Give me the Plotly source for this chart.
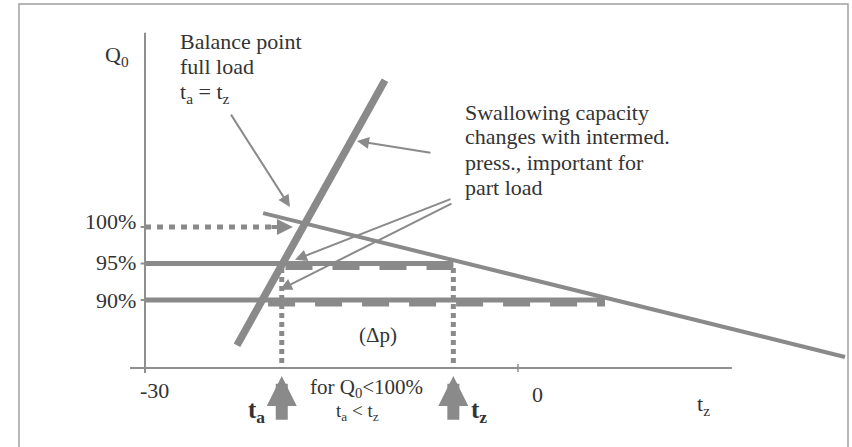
import plotly.graph_objects as go

# ---------------- data (schematic values) ----------------
Q_LEVELS = [100, 95, 90]            # Q0 in %
Q_LABELS = ["100%", "95%", "90%"]
T_TICKS = [-30, 0]                  # t_z axis ticks (deg C)
T_TICK_LABELS = ["-30", "0"]

t_a = -19.0                          # balance point temperature for 95 %
t_z = -5.2

swallow_t = [-22.6, -10.7]           # swallowing capacity characteristic
swallow_q = [83.8, 120.1]

balance_t = [-20.5, 26.3]            # evaporator / balance characteristic
balance_q = [101.9, 82.2]

level_end_t = [-18.1, t_z, 7.0]      # where the 100 / 95 / 90 % lines end
dash_start_t = [None, -18.7, -20.1]  # where the dashed part of 95 / 90 % begins

axis_q = 80.7                        # Q position of the t axis
yaxis_span_q = [80.0, 126.6]
xaxis_span_t = [-31.2, 17.2]

BALANCE_NOTE = ["Balance point", "full load", "t<sub>a</sub> = t<sub>z</sub>"]
SWALLOW_NOTE = ["Swallowing capacity", "changes with intermed.",
                "press., important for", "part load"]

# ---------------- style ----------------
GRAY = "#8a8a8a"
AXC = "#8f8f8f"
TXT = "#333333"
FONT = "Liberation Serif, Times New Roman, serif"
DASH_OFFSET = 0.55

fig = go.Figure()


def line(x, y, width, dash=None, color=GRAY):
    fig.add_trace(go.Scatter(x=x, y=y, mode="lines",
                             line=dict(color=color, width=width, dash=dash),
                             hoverinfo="skip", showlegend=False))


def arrow(tail, head, width, size, style=2):
    fig.add_annotation(x=head[0], y=head[1], ax=tail[0], ay=tail[1],
                       xref="x", yref="y", axref="x", ayref="y", text="",
                       showarrow=True, arrowhead=style, arrowsize=size,
                       arrowwidth=width, arrowcolor=GRAY, standoff=0)


def text(x, y, s, size=22, xanchor="center", yanchor="middle", align="center"):
    fig.add_annotation(x=x, y=y, text=s, showarrow=False, xref="x", yref="y",
                       font=dict(family=FONT, size=size, color=TXT),
                       xanchor=xanchor, yanchor=yanchor, align=align)


# axes
line([-30, -30], yaxis_span_q, 2, color=AXC)
line(xaxis_span_t, [axis_q, axis_q], 2, color=AXC)
for t in T_TICKS:
    line([t, t], [axis_q - 0.55, axis_q + 0.55], 1.5, color=AXC)
for q in Q_LEVELS:
    line([-30.35, -30], [q, q], 2, color=AXC)

# 100 % dotted level with arrow
line([-30, level_end_t[0] - 1.3], [Q_LEVELS[0], Q_LEVELS[0]], 5, dash="6px,6px")
arrow((level_end_t[0] - 1.85, Q_LEVELS[0]), (level_end_t[0], Q_LEVELS[0]), 4, 0.8)

# 95 % and 90 % levels: solid + dashed overlay
for q, t_end, t_dash in zip(Q_LEVELS[1:], level_end_t[1:], dash_start_t[1:]):
    line([-30, t_end], [q, q], 5)
    line([t_dash, t_end], [q - DASH_OFFSET, q - DASH_OFFSET], 5, dash="27px,20px")

# characteristics
line(swallow_t, swallow_q, 7.5)
line(balance_t, balance_q, 4)

# vertical dotted guides
for t in (t_a, t_z):
    line([t, t], [Q_LEVELS[1] - 0.6, axis_q], 5, dash="5px,4px")

# big up arrows under the axis
for t in (t_a, t_z):
    arrow((t, 73.4), (t, 79.6), 12, 0.5)

# callout arrows
arrow((-23.16, 115.6), (-18.34, 102.74), 2, 1.2)
arrow((-6.92, 110.14), (-12.95, 111.78), 2, 1.2)
arrow((-5.31, 103.9), (-17.94, 95.5), 2, 1.2)
arrow((-5.23, 103.3), (-19.14, 91.4), 2, 1.2)

# texts
text(-32.25, 123.4, "Q<sub>0</sub>")
for s, q in zip(BALANCE_NOTE, [125.48, 121.92, 118.4]):
    text(-27.35, q, s, xanchor="left")
for s, q in zip(SWALLOW_NOTE, [115.75, 112.33, 108.9, 105.48]):
    text(-4.42, q, s, xanchor="left")
label_shift = [0.8, 0.2, 0.0]
for q, lab, s in zip(Q_LEVELS, Q_LABELS, label_shift):
    text(-30.6, q + s, lab, xanchor="right")
text(-29.2, 77.67, T_TICK_LABELS[0])
text(1.53, 77.0, T_TICK_LABELS[1])
text(14.88, 75.6, "t<sub>z</sub>")
text(-11.26, 85.2, "(\u0394p)", size=21)
text(-12.22, 77.95, "for Q<sub>0</sub>&lt;100%", size=21)
text(-12.87, 74.66, "t<sub>a</sub> &lt; t<sub>z</sub>", size=19)
text(-21.07, 74.66, "<b>t<sub>a</sub></b>", size=25)
text(-3.14, 74.66, "<b>t<sub>z</sub></b>", size=25)

# outer frame
fig.add_shape(type="rect", xref="paper", yref="paper", x0=19 / 852, x1=848 / 852,
              y0=-0.05, y1=1 - 4 / 447, line=dict(color="#a0a0a0", width=1.5))

fig.update_layout(
    width=852, height=447, margin=dict(l=0, r=0, t=0, b=0),
    paper_bgcolor="white", plot_bgcolor="white", showlegend=False,
    xaxis=dict(range=[-41.662, 26.864], visible=False, fixedrange=True),
    yaxis=dict(range=[69.863, 131.096], visible=False, fixedrange=True),
)

fig.write_html("out.html", config={"displayModeBar": False},
               post_script="document.body.style.margin='0px';")
